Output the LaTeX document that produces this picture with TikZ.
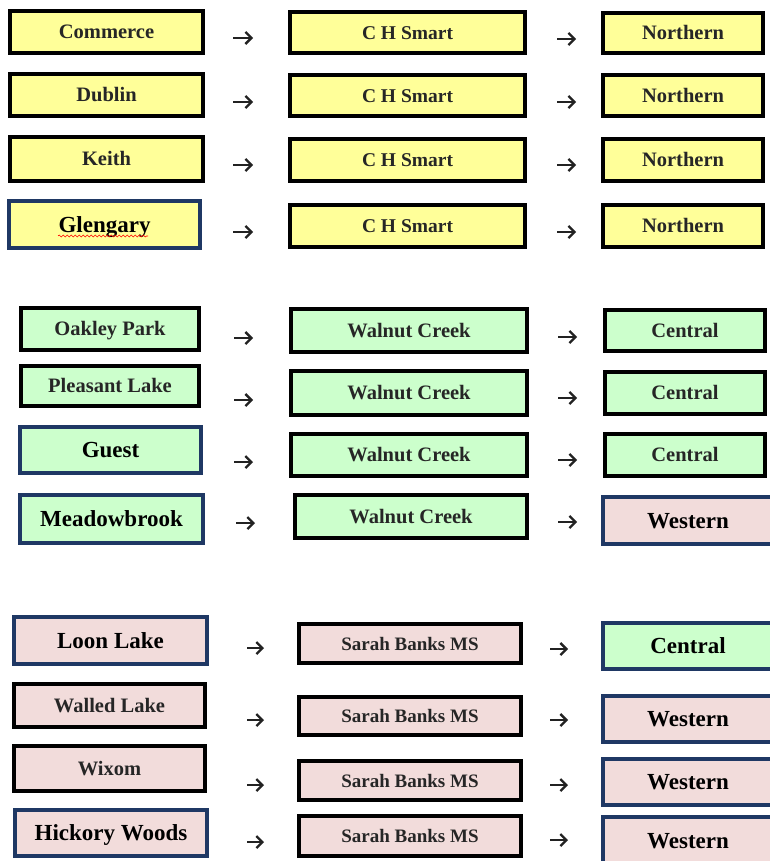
\documentclass[tikz,border=0pt]{standalone}
\usepackage{fontspec}
\setmainfont{Liberation Serif}
\usetikzlibrary{arrows.meta,decorations.pathmorphing}
\definecolor{yel}{HTML}{FFFF99}
\definecolor{grn}{HTML}{CCFFCC}
\definecolor{pnk}{HTML}{F2DCDB}
\definecolor{navy}{HTML}{1F3864}
\definecolor{txt}{HTML}{262626}
\definecolor{arrc}{HTML}{222222}
\newcommand\bx[7]{%
  \node[#6, minimum width={#4-#2-3.6}, minimum height={#5-#3-3.6}] (#1) at ({(#2+#4)/2},{(#3+#5)/2}) {#7};}
\tikzset{
  box/.style={draw, rectangle, inner sep=0pt, line width=3.5pt,
    font=\bfseries\fontsize{20.5}{22}\selectfont, text=txt,
    text height=13.5pt, text depth=0pt},
  bk/.style={box, draw=black},
  nv/.style={box, draw=navy, line width=4pt, text=black,
    font=\bfseries\fontsize{23}{25}\selectfont, text height=15.2pt},
  arr/.style={line width=2.3pt, draw=arrc, -{Straight Barb[length=6pt, width=12pt]}},
}
\begin{document}
\begin{tikzpicture}[x=1pt,y=-1pt]
\useasboundingbox (0,0) rectangle (770,861);
\clip (0,0) rectangle (770,861);
\fill[white] (0,0) rectangle (770,861);
% group 1
\bx{A1}{8}{9}{205}{55}{bk,fill=yel}{Commerce}
\bx{A2}{8}{72}{205}{118}{bk,fill=yel}{Dublin}
\bx{A3}{8}{135}{205}{183}{bk,fill=yel}{Keith}
\bx{A4}{7}{199}{202}{250}{nv,fill=yel}{Glengary}
\bx{B1}{288}{10}{527}{55}{bk,fill=yel,font=\bfseries\fontsize{19.5}{22}\selectfont}{C H Smart}
\bx{B2}{288}{73}{527}{118}{bk,fill=yel,font=\bfseries\fontsize{19.5}{22}\selectfont}{C H Smart}
\bx{B3}{288}{137}{527}{183}{bk,fill=yel,font=\bfseries\fontsize{19.5}{22}\selectfont}{C H Smart}
\bx{B4}{288}{203}{527}{249}{bk,fill=yel,font=\bfseries\fontsize{19.5}{22}\selectfont}{C H Smart}
\bx{C1}{601}{11}{765}{55}{bk,fill=yel}{Northern}
\bx{C2}{601}{73}{765}{118}{bk,fill=yel}{Northern}
\bx{C3}{601}{137}{765}{183}{bk,fill=yel}{Northern}
\bx{C4}{601}{203}{765}{249}{bk,fill=yel}{Northern}
\draw[red, line width=0.6pt, decorate, decoration={snake, segment length=4pt, amplitude=1pt}] (58,236) -- (148,236);
% group 2
\bx{D1}{19}{306}{201}{352}{bk,fill=grn}{Oakley Park}
\bx{D2}{19}{364}{201}{408}{bk,fill=grn}{Pleasant Lake}
\bx{D3}{18}{425}{203}{475}{nv,fill=grn}{Guest}
\bx{D4}{18}{493}{205}{545}{nv,fill=grn}{Meadowbrook}
\bx{E1}{289}{307}{529}{354}{bk,fill=grn}{Walnut Creek}
\bx{E2}{289}{369}{529}{417}{bk,fill=grn}{Walnut Creek}
\bx{E3}{289}{432}{529}{478}{bk,fill=grn}{Walnut Creek}
\bx{E4}{293}{493}{529}{540}{bk,fill=grn}{Walnut Creek}
\bx{F1}{603}{308}{767}{353}{bk,fill=grn}{Central}
\bx{F2}{603}{370}{767}{416}{bk,fill=grn}{Central}
\bx{F3}{603}{432}{767}{478}{bk,fill=grn}{Central}
\bx{F4}{601}{495}{775}{546}{nv,fill=pnk}{Western}
% group 3
\bx{G1}{12}{615}{209}{666}{nv,fill=pnk}{Loon Lake}
\bx{G2}{12}{682}{207}{729}{bk,fill=pnk}{Walled Lake}
\bx{G3}{12}{744}{207}{793}{bk,fill=pnk}{Wixom}
\bx{G4}{13}{808}{209}{858}{nv,fill=pnk}{Hickory Woods}
\bx{H1}{297}{622}{523}{665}{bk,fill=pnk,font=\bfseries\fontsize{19}{22}\selectfont}{Sarah Banks MS}
\bx{H2}{297}{695}{523}{737}{bk,fill=pnk,font=\bfseries\fontsize{19}{22}\selectfont}{Sarah Banks MS}
\bx{H3}{297}{759}{523}{802}{bk,fill=pnk,font=\bfseries\fontsize{19}{22}\selectfont}{Sarah Banks MS}
\bx{H4}{297}{814}{523}{858}{bk,fill=pnk,font=\bfseries\fontsize{19}{22}\selectfont}{Sarah Banks MS}
\bx{I1}{601}{621}{775}{671}{nv,fill=grn}{Central}
\bx{I2}{601}{694}{775}{744}{nv,fill=pnk}{Western}
\bx{I3}{601}{757}{775}{807}{nv,fill=pnk}{Western}
\bx{I4}{601}{815}{775}{866}{nv,fill=pnk}{Western}
% arrows
\foreach \n/\xa/\xb/\y in {
  a1/233/253/38, a2/233/253/102, a3/233/253/165, a4/233/253/232,
  b1/557/576/39, b2/557/576/102, b3/557/576/165, b4/557/576/232,
  c1/234/253/338, c2/234/253/400, c3/234/253/462, c4/236/255/523,
  d1/558/577/337, d2/558/577/398, d3/558/577/460, d4/558/577/522,
  e1/247/264/648, e2/247/264/720, e3/247/264/785, e4/247/264/842,
  f1/550/568/649, f2/550/568/720, f3/550/568/785, f4/550/568/840}{
  \coordinate (s\n) at (\xa,\y);
  \coordinate (e\n) at (\xb,\y);
  \draw[arr] (s\n) -- (e\n);
}
\end{tikzpicture}
\end{document}
